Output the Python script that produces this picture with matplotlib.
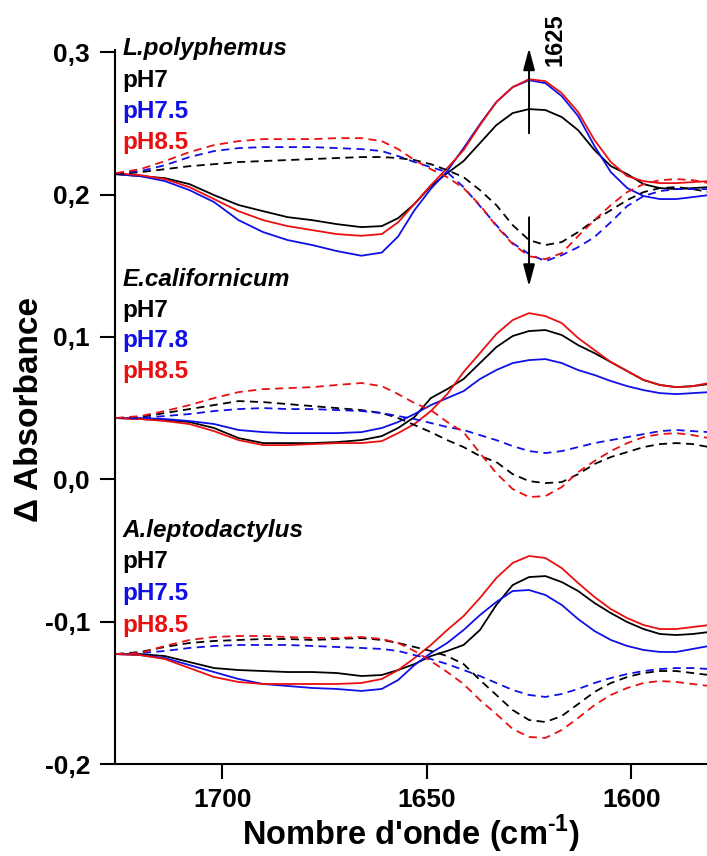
import matplotlib
matplotlib.use("Agg")
import matplotlib.pyplot as plt
from matplotlib.ticker import FuncFormatter

# wavenumber grid (cm-1)
wavenumber = [1726, 1720, 1714, 1708, 1702, 1696, 1690, 1684, 1678, 1672, 1666, 1661,
              1657, 1653, 1649, 1645, 1641, 1637, 1633, 1629, 1625, 1621, 1617, 1613,
              1609, 1605, 1601, 1597, 1593, 1589, 1585, 1581]

# L. polyphemus (solid / dashed)
lp_ph7 = [0.2143, 0.2129, 0.2115, 0.2073, 0.1996, 0.1926, 0.1883, 0.1841, 0.1820, 0.1792, 0.1771, 0.1778,
          0.1834, 0.1933, 0.2059, 0.2150, 0.2235, 0.2361, 0.2487, 0.2572, 0.2600, 0.2593, 0.2544, 0.2452,
          0.2312, 0.2199, 0.2143, 0.2073, 0.2045, 0.2038, 0.2045, 0.2052]
lp_ph75 = [0.2143, 0.2129, 0.2094, 0.2031, 0.1947, 0.1820, 0.1736, 0.1680, 0.1645, 0.1603, 0.1570, 0.1592,
           0.1705, 0.1890, 0.2040, 0.2164, 0.2326, 0.2494, 0.2649, 0.2754, 0.2803, 0.2782, 0.2691, 0.2551,
           0.2340, 0.2157, 0.2045, 0.1989, 0.1968, 0.1968, 0.1982, 0.1996]
lp_ph85 = [0.2150, 0.2136, 0.2108, 0.2052, 0.1968, 0.1883, 0.1820, 0.1778, 0.1750, 0.1722, 0.1710, 0.1722,
           0.1805, 0.1935, 0.2065, 0.2185, 0.2312, 0.2487, 0.2649, 0.2754, 0.2810, 0.2796, 0.2712, 0.2579,
           0.2382, 0.2228, 0.2129, 0.2094, 0.2080, 0.2080, 0.2087, 0.2094]
lp_ph7_d = [0.2143, 0.2157, 0.2178, 0.2199, 0.2213, 0.2228, 0.2235, 0.2242, 0.2249, 0.2256, 0.2263, 0.2263,
            0.2256, 0.2242, 0.2213, 0.2171, 0.2122, 0.2031, 0.1926, 0.1785, 0.1680, 0.1645, 0.1666, 0.1736,
            0.1820, 0.1890, 0.1961, 0.2017, 0.2045, 0.2052, 0.2038, 0.2017]
lp_ph75_d = [0.2150, 0.2164, 0.2206, 0.2263, 0.2305, 0.2326, 0.2333, 0.2333, 0.2333, 0.2326, 0.2319, 0.2305,
             0.2270, 0.2228, 0.2192, 0.2157, 0.2052, 0.1919, 0.1785, 0.1659, 0.1582, 0.1532, 0.1574, 0.1630,
             0.1701, 0.1806, 0.1919, 0.1989, 0.2024, 0.2038, 0.2038, 0.2038]
lp_ph85_d = [0.2150, 0.2178, 0.2235, 0.2298, 0.2347, 0.2375, 0.2389, 0.2389, 0.2389, 0.2396, 0.2396, 0.2375,
             0.2319, 0.2242, 0.2178, 0.2122, 0.2045, 0.1926, 0.1778, 0.1652, 0.1567, 0.1546, 0.1588, 0.1708,
             0.1820, 0.1926, 0.2017, 0.2073, 0.2101, 0.2108, 0.2101, 0.2080]

# E. californicum
ec_ph7 = [0.0430, 0.0423, 0.0416, 0.0402, 0.0360, 0.0289, 0.0254, 0.0254, 0.0254, 0.0261, 0.0275, 0.0303,
          0.0360, 0.0437, 0.0570, 0.0633, 0.0704, 0.0816, 0.0928, 0.1006, 0.1041, 0.1048, 0.1013, 0.0942,
          0.0886, 0.0823, 0.0760, 0.0697, 0.0662, 0.0647, 0.0654, 0.0669]
ec_ph78 = [0.0430, 0.0430, 0.0423, 0.0409, 0.0388, 0.0346, 0.0331, 0.0324, 0.0324, 0.0324, 0.0331, 0.0360,
           0.0402, 0.0458, 0.0521, 0.0570, 0.0619, 0.0704, 0.0767, 0.0816, 0.0837, 0.0844, 0.0816, 0.0767,
           0.0732, 0.0690, 0.0654, 0.0626, 0.0605, 0.0598, 0.0605, 0.0612]
ec_ph85 = [0.0430, 0.0423, 0.0409, 0.0388, 0.0338, 0.0275, 0.0240, 0.0240, 0.0247, 0.0254, 0.0254, 0.0268,
           0.0324, 0.0388, 0.0479, 0.0598, 0.0753, 0.0886, 0.1020, 0.1118, 0.1167, 0.1146, 0.1097, 0.0992,
           0.0907, 0.0823, 0.0760, 0.0697, 0.0662, 0.0647, 0.0654, 0.0676]
ec_ph7_d = [0.0430, 0.0437, 0.0465, 0.0493, 0.0521, 0.0549, 0.0542, 0.0528, 0.0514, 0.0500, 0.0486, 0.0465,
            0.0430, 0.0381, 0.0331, 0.0275, 0.0226, 0.0163, 0.0121, 0.0036, -0.0013, -0.0027, -0.0020, 0.0036,
            0.0107, 0.0156, 0.0191, 0.0226, 0.0247, 0.0254, 0.0247, 0.0226]
ec_ph78_d = [0.0430, 0.0430, 0.0444, 0.0458, 0.0479, 0.0493, 0.0500, 0.0493, 0.0493, 0.0486, 0.0479, 0.0465,
             0.0444, 0.0423, 0.0395, 0.0367, 0.0346, 0.0310, 0.0275, 0.0233, 0.0198, 0.0184, 0.0198, 0.0226,
             0.0254, 0.0275, 0.0296, 0.0317, 0.0338, 0.0346, 0.0338, 0.0331]
ec_ph85_d = [0.0430, 0.0444, 0.0479, 0.0521, 0.0570, 0.0612, 0.0633, 0.0640, 0.0647, 0.0662, 0.0676, 0.0654,
             0.0598, 0.0535, 0.0486, 0.0402, 0.0331, 0.0184, 0.0043, -0.0069, -0.0125, -0.0118, -0.0055, 0.0050,
             0.0128, 0.0198, 0.0254, 0.0296, 0.0317, 0.0324, 0.0310, 0.0289]

# A. leptodactylus
al_ph7 = [-0.1228, -0.1228, -0.1242, -0.1284, -0.1326, -0.1340, -0.1347, -0.1354, -0.1354, -0.1361, -0.1382, -0.1375,
          -0.1340, -0.1298, -0.1242, -0.1206, -0.1164, -0.1059, -0.0883, -0.0743, -0.0687, -0.0680, -0.0722, -0.0785,
          -0.0869, -0.0940, -0.1003, -0.1052, -0.1087, -0.1094, -0.1087, -0.1073]
al_ph75 = [-0.1228, -0.1235, -0.1256, -0.1305, -0.1354, -0.1403, -0.1438, -0.1452, -0.1466, -0.1473, -0.1487, -0.1473,
           -0.1410, -0.1305, -0.1221, -0.1150, -0.1059, -0.0954, -0.0862, -0.0785, -0.0778, -0.0813, -0.0883, -0.0982,
           -0.1066, -0.1129, -0.1171, -0.1199, -0.1213, -0.1213, -0.1192, -0.1171]
al_ph85 = [-0.1228, -0.1235, -0.1263, -0.1326, -0.1389, -0.1424, -0.1438, -0.1438, -0.1438, -0.1438, -0.1431, -0.1403,
           -0.1340, -0.1256, -0.1164, -0.1059, -0.0961, -0.0834, -0.0694, -0.0588, -0.0539, -0.0553, -0.0624, -0.0729,
           -0.0827, -0.0912, -0.0975, -0.1024, -0.1052, -0.1052, -0.1038, -0.1024]
al_ph7_d = [-0.1228, -0.1213, -0.1178, -0.1150, -0.1136, -0.1129, -0.1122, -0.1122, -0.1129, -0.1122, -0.1115, -0.1129,
            -0.1150, -0.1178, -0.1206, -0.1242, -0.1298, -0.1410, -0.1515, -0.1621, -0.1691, -0.1705, -0.1663, -0.1579,
            -0.1494, -0.1431, -0.1389, -0.1361, -0.1347, -0.1347, -0.1361, -0.1375]
al_ph75_d = [-0.1228, -0.1221, -0.1206, -0.1185, -0.1171, -0.1164, -0.1164, -0.1164, -0.1171, -0.1178, -0.1185, -0.1192,
             -0.1206, -0.1235, -0.1263, -0.1298, -0.1340, -0.1382, -0.1431, -0.1480, -0.1515, -0.1529, -0.1508, -0.1473,
             -0.1431, -0.1396, -0.1368, -0.1347, -0.1333, -0.1326, -0.1326, -0.1333]
al_ph85_d = [-0.1228, -0.1221, -0.1171, -0.1129, -0.1108, -0.1101, -0.1101, -0.1108, -0.1115, -0.1115, -0.1108, -0.1122,
             -0.1150, -0.1206, -0.1277, -0.1354, -0.1438, -0.1551, -0.1649, -0.1754, -0.1810, -0.1817, -0.1761, -0.1677,
             -0.1586, -0.1515, -0.1466, -0.1431, -0.1417, -0.1424, -0.1438, -0.1452]

species = ["L.polyphemus", "E.californicum", "A.leptodactylus"]
ph_labels = [["pH7", "pH7.5", "pH8.5"], ["pH7", "pH7.8", "pH8.5"], ["pH7", "pH7.5", "pH8.5"]]
label_y = [[0.2979, 0.2754, 0.2537, 0.2319],
           [0.1357, 0.1139, 0.0928, 0.0711],
           [-0.0406, -0.0624, -0.0848, -0.1073]]

BLACK = "#000000"
BLUE = "#1010e6"
RED = "#e81010"
colors = [BLACK, BLUE, RED]

groups = [
    ([lp_ph7, lp_ph75, lp_ph85], [lp_ph7_d, lp_ph75_d, lp_ph85_d]),
    ([ec_ph7, ec_ph78, ec_ph85], [ec_ph7_d, ec_ph78_d, ec_ph85_d]),
    ([al_ph7, al_ph75, al_ph85], [al_ph7_d, al_ph75_d, al_ph85_d]),
]

plt.rcParams["font.family"] = ["Liberation Sans", "DejaVu Sans"]
plt.rcParams["font.weight"] = "bold"
plt.rcParams["axes.labelweight"] = "bold"
plt.rcParams["mathtext.fontset"] = "custom"
plt.rcParams["mathtext.rm"] = "Liberation Sans:bold"
plt.rcParams["mathtext.bf"] = "Liberation Sans:bold"

fig = plt.figure(figsize=(7.07, 8.56), dpi=100)
ax = fig.add_axes([115 / 707, 92 / 856, 592 / 707, 714 / 856])

for solids, dashes in groups:
    for y, c in zip(solids, colors):
        ax.plot(wavenumber, y, color=c, lw=1.3, solid_joinstyle="round")
    for y, c in zip(dashes, colors):
        ax.plot(wavenumber, y, color=c, lw=1.3, ls=(0, (4.5, 3)))

ax.set_xlim(1726.2, 1581.5)
ax.set_ylim(-0.2, 0.3015)
ax.set_xticks([1700, 1650, 1600])
ax.set_yticks([-0.2, -0.1, 0.0, 0.1, 0.2, 0.3])
ax.yaxis.set_major_formatter(FuncFormatter(lambda v, p: f"{v:.1f}".replace(".", ",").replace("-0,0", "0,0")))

for side in ["top", "right"]:
    ax.spines[side].set_visible(False)
for side in ["left", "bottom"]:
    ax.spines[side].set_linewidth(1.5)
ax.tick_params(direction="out", length=11, width=1.5, labelsize=19, pad=6)
ax.tick_params(axis="y", pad=7)

for i, name in enumerate(species):
    ax.text(1724.3, label_y[i][0], name, style="italic", fontsize=17.5, va="baseline", ha="left")
    for j, lab in enumerate(ph_labels[i]):
        ax.text(1724.3, label_y[i][j + 1], lab, color=colors[j], fontsize=17.5, va="baseline", ha="left")

# arrows at 1625
ax.annotate("", xy=(1625, 0.3028), xytext=(1625, 0.243), annotation_clip=False,
            arrowprops=dict(arrowstyle="-|>,head_length=0.6,head_width=0.16", color="k",
                            lw=1.4, mutation_scale=22, shrinkA=0, shrinkB=0))
ax.annotate("", xy=(1625, 0.1355), xytext=(1625, 0.184), annotation_clip=False,
            arrowprops=dict(arrowstyle="-|>,head_length=0.6,head_width=0.16", color="k",
                            lw=1.4, mutation_scale=22, shrinkA=0, shrinkB=0))
ax.text(1618.7, 0.3084, "1625", rotation=90, fontsize=17, ha="center", va="center", clip_on=False)

ax.set_xlabel(r"Nombre d'onde (cm$^{\text{-}1}$)", fontsize=23.5, fontweight="bold")
ax.xaxis.set_label_coords(0.5, -0.069)
fig.text(30 / 707, 1 - 410 / 856, "Δ Absorbance", rotation=90, fontsize=24,
         ha="center", va="center")

fig.savefig("out.png", dpi=100)
